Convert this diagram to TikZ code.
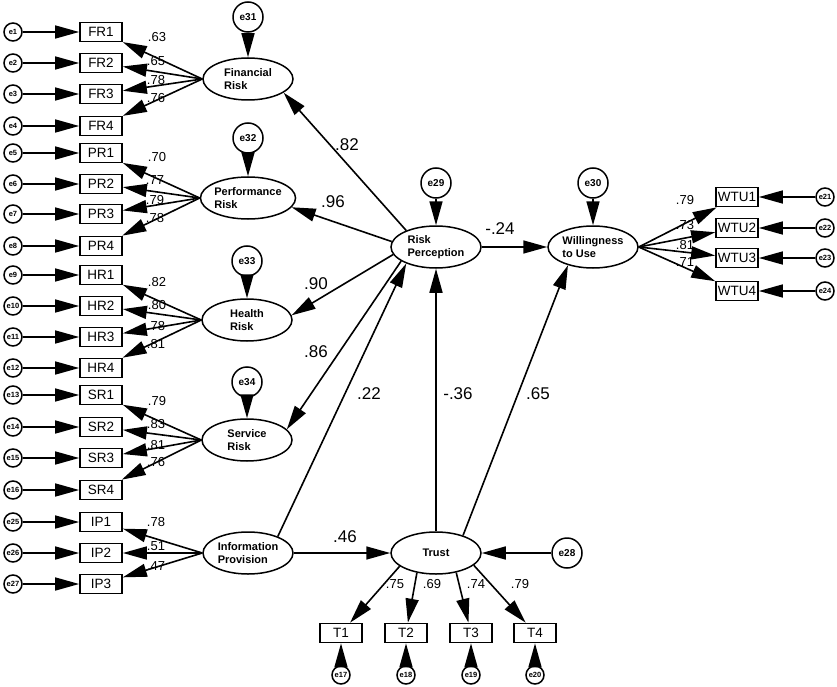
\documentclass[tikz,border=0pt]{standalone}
\usepackage{fontspec}
\setmainfont{Liberation Sans}
\usetikzlibrary{arrows.meta,shapes.geometric}

\begin{document}
\begin{tikzpicture}[x=1pt,y=-1pt,
        lat/.style = {draw, ellipse, line width=1.5pt, minimum width=90pt, minimum height=42pt, inner sep=0pt, align=left, font=\fontsize{11}{13}\selectfont\bfseries},
        ind/.style = {draw, rectangle, line width=1.7pt, minimum width=42pt, minimum height=19pt, inner sep=1pt, font=\fontsize{13.5}{14}\selectfont},
        err/.style = {draw, circle, line width=1.5pt, minimum size=18pt, inner sep=0pt, font=\fontsize{7.5}{8}\selectfont\bfseries},
        dis/.style = {draw, circle, line width=1.5pt, minimum size=30pt, inner sep=0pt, font=\fontsize{10}{11}\selectfont\bfseries},
        arr/.style = {-{Triangle[length=24pt,width=13pt]}, line width=1.6pt},
        coef/.style = {inner sep=0pt, font=\fontsize{13}{14}\selectfont},
        bcoef/.style = {inner sep=0pt, font=\fontsize{17}{18}\selectfont},
        ]
        \useasboundingbox (0,0) rectangle (837,687);
        % latent variables
        \node[lat] (fr) at (248,79) {Financial\\Risk};
        \node[lat] (pr) at (248,198) {Performance\\Risk};
        \node[lat] (hr) at (247,320) {Health\\Risk};
        \node[lat] (sr) at (247,440) {Service\\Risk};
        \node[lat] (ip) at (248,553) {Information\\Provision};
        \node[lat] (rp) at (436,247) {Risk\\Perception};
        \node[lat] (wtu) at (593,247) {Willingness\\to Use};
        \node[lat] (trust) at (436,553) {Trust};
        % disturbances
        \node[dis] (e31) at (248,17) {e31};
        \node[dis] (e32) at (248,138) {e32};
        \node[dis] (e33) at (247,261) {e33};
        \node[dis] (e34) at (247,382) {e34};
        \node[dis] (e29) at (436,183) {e29};
        \node[dis] (e30) at (593,183) {e30};
        \node[dis] (e28) at (567,553) {e28};
        % indicators, left
        \node[ind] (fr1) at (101,32) {FR1};
        \node[ind] (fr2) at (101,63) {FR2};
        \node[ind] (fr3) at (101,94) {FR3};
        \node[ind] (fr4) at (101,126) {FR4};
        \node[ind] (pr1) at (101,153) {PR1};
        \node[ind] (pr2) at (101,184) {PR2};
        \node[ind] (pr3) at (101,214) {PR3};
        \node[ind] (pr4) at (101,246) {PR4};
        \node[ind] (hr1) at (101,275) {HR1};
        \node[ind] (hr2) at (101,306) {HR2};
        \node[ind] (hr3) at (101,337) {HR3};
        \node[ind] (hr4) at (101,368) {HR4};
        \node[ind] (sr1) at (101,395) {SR1};
        \node[ind] (sr2) at (101,427) {SR2};
        \node[ind] (sr3) at (101,458) {SR3};
        \node[ind] (sr4) at (101,490) {SR4};
        \node[ind] (ip1) at (101,522) {IP1};
        \node[ind] (ip2) at (101,553) {IP2};
        \node[ind] (ip3) at (101,584) {IP3};
        % errors, left
        \node[err] (e1) at (13,32) {e1};
        \node[err] (e2) at (13,63) {e2};
        \node[err] (e3) at (13,94) {e3};
        \node[err] (e4) at (13,126) {e4};
        \node[err] (e5) at (13,153) {e5};
        \node[err] (e6) at (13,184) {e6};
        \node[err] (e7) at (13,214) {e7};
        \node[err] (e8) at (13,246) {e8};
        \node[err] (e9) at (13,275) {e9};
        \node[err] (e10) at (13,306) {e10};
        \node[err] (e11) at (13,337) {e11};
        \node[err] (e12) at (13,368) {e12};
        \node[err] (e13) at (13,395) {e13};
        \node[err] (e14) at (13,427) {e14};
        \node[err] (e15) at (13,458) {e15};
        \node[err] (e16) at (13,490) {e16};
        \node[err] (e25) at (13,522) {e25};
        \node[err] (e26) at (13,553) {e26};
        \node[err] (e27) at (13,584) {e27};
        % indicators and errors, right
        \node[ind] (wtu1) at (737,197) {WTU1};
        \node[ind] (wtu2) at (737,228) {WTU2};
        \node[ind] (wtu3) at (737,258) {WTU3};
        \node[ind] (wtu4) at (737,291) {WTU4};
        \node[err] (e21) at (825,197) {e21};
        \node[err] (e22) at (825,228) {e22};
        \node[err] (e23) at (825,258) {e23};
        \node[err] (e24) at (825,291) {e24};
        % indicators and errors, bottom
        \node[ind] (t1) at (341,633) {T1};
        \node[ind] (t2) at (406,633) {T2};
        \node[ind] (t3) at (471,633) {T3};
        \node[ind] (t4) at (535,633) {T4};
        \node[err] (e17) at (341,675) {e17};
        \node[err] (e18) at (406,675) {e18};
        \node[err] (e19) at (471,675) {e19};
        \node[err] (e20) at (535,675) {e20};

        % error arrows
        \draw[arr] (e1) -- (fr1);
        \draw[arr] (e2) -- (fr2);
        \draw[arr] (e3) -- (fr3);
        \draw[arr] (e4) -- (fr4);
        \draw[arr] (e5) -- (pr1);
        \draw[arr] (e6) -- (pr2);
        \draw[arr] (e7) -- (pr3);
        \draw[arr] (e8) -- (pr4);
        \draw[arr] (e9) -- (hr1);
        \draw[arr] (e10) -- (hr2);
        \draw[arr] (e11) -- (hr3);
        \draw[arr] (e12) -- (hr4);
        \draw[arr] (e13) -- (sr1);
        \draw[arr] (e14) -- (sr2);
        \draw[arr] (e15) -- (sr3);
        \draw[arr] (e16) -- (sr4);
        \draw[arr] (e25) -- (ip1);
        \draw[arr] (e26) -- (ip2);
        \draw[arr] (e27) -- (ip3);
        \draw[arr] (e21) -- (wtu1);
        \draw[arr] (e22) -- (wtu2);
        \draw[arr] (e23) -- (wtu3);
        \draw[arr] (e24) -- (wtu4);
        \draw[arr] (e17) -- (t1);
        \draw[arr] (e18) -- (t2);
        \draw[arr] (e19) -- (t3);
        \draw[arr] (e20) -- (t4);
        \draw[arr] (e31) -- (fr);
        \draw[arr] (e32) -- (pr);
        \draw[arr] (e33) -- (hr);
        \draw[arr] (e34) -- (sr);
        \draw[arr] (e29) -- (rp);
        \draw[arr] (e30) -- (wtu);
        \draw[arr] (e28) -- (trust.east);

        % loadings
        \draw[arr] (fr.west) -- (fr1);
        \draw[arr] (fr.west) -- (fr2);
        \draw[arr] (fr.west) -- (fr3);
        \draw[arr] (fr.west) -- (fr4);
        \draw[arr] (pr.west) -- (pr1);
        \draw[arr] (pr.west) -- (pr2);
        \draw[arr] (pr.west) -- (pr3);
        \draw[arr] (pr.west) -- (pr4);
        \draw[arr] (hr.west) -- (hr1);
        \draw[arr] (hr.west) -- (hr2);
        \draw[arr] (hr.west) -- (hr3);
        \draw[arr] (hr.west) -- (hr4);
        \draw[arr] (sr.west) -- (sr1);
        \draw[arr] (sr.west) -- (sr2);
        \draw[arr] (sr.west) -- (sr3);
        \draw[arr] (sr.west) -- (sr4);
        \draw[arr] (ip.west) -- (ip1);
        \draw[arr] (ip.west) -- (ip2);
        \draw[arr] (ip.west) -- (ip3);
        \draw[arr] (wtu.east) -- (wtu1);
        \draw[arr] (wtu.east) -- (wtu2);
        \draw[arr] (wtu.east) -- (wtu3);
        \draw[arr] (wtu.east) -- (wtu4);
        \draw[arr] (trust.200) -- (t1);
        \draw[arr] (trust.226) -- (t2);
        \draw[arr] (trust.316) -- (t3);
        \draw[arr] (trust.342) -- (t4);

        % structural paths
        \draw[arr] (rp.151) -- (fr.-21);
        \draw[arr] (rp.173) -- (pr.-12);
        \draw[arr] (rp.190) -- (hr.6);
        \draw[arr] (rp.202) -- (sr.15);
        \draw[arr] (ip.29) -- (rp.209);
        \draw[arr] (trust.north) -- (rp.south);
        \draw[arr] (trust.33) -- (wtu.216);
        \draw[arr] (rp.east) -- (wtu.west);
        \draw[arr] (ip.east) -- (trust.west);

        % coefficients
        \node[coef] (c1) at (157,37) {.63};
        \node[coef] (c2) at (156,61) {.65};
        \node[coef] (c3) at (156,80) {.78};
        \node[coef] (c4) at (156,98) {.76};
        \node[coef] (c5) at (157,157) {.70};
        \node[coef] (c6) at (155,180) {.77};
        \node[coef] (c7) at (155,200) {.79};
        \node[coef] (c8) at (155,218) {.78};
        \node[coef] (c9) at (157,282) {.82};
        \node[coef] (c10) at (157,305) {.80};
        \node[coef] (c11) at (156,326) {.78};
        \node[coef] (c12) at (156,344) {.81};
        \node[coef] (c13) at (157,401) {.79};
        \node[coef] (c14) at (156,424) {.83};
        \node[coef] (c15) at (156,445) {.81};
        \node[coef] (c16) at (156,462) {.76};
        \node[coef] (c17) at (156,522) {.78};
        \node[coef] (c18) at (156,546) {.51};
        \node[coef] (c19) at (156,566) {.47};
        \node[coef] (c20) at (395,584) {.75};
        \node[coef] (c21) at (432,584) {.69};
        \node[coef] (c22) at (476,584) {.74};
        \node[coef] (c23) at (520,584) {.79};
        \node[coef] (c24) at (685,200) {.79};
        \node[coef] (c25) at (685,225) {.73};
        \node[coef] (c26) at (685,245) {.81};
        \node[coef] (c27) at (685,262) {.71};
        \node[bcoef] (c28) at (347,145) {.82};
        \node[bcoef] (c29) at (333,202) {.96};
        \node[bcoef] (c30) at (316,284) {.90};
        \node[bcoef] (c31) at (316,352) {.86};
        \node[bcoef] (c32) at (369,394) {.22};
        \node[bcoef] (c33) at (458,394) {-.36};
        \node[bcoef] (c34) at (538,394) {.65};
        \node[bcoef] (c35) at (500,229) {-.24};
        \node[bcoef] (c36) at (345,537) {.46};
    \end{tikzpicture}
\end{document}
